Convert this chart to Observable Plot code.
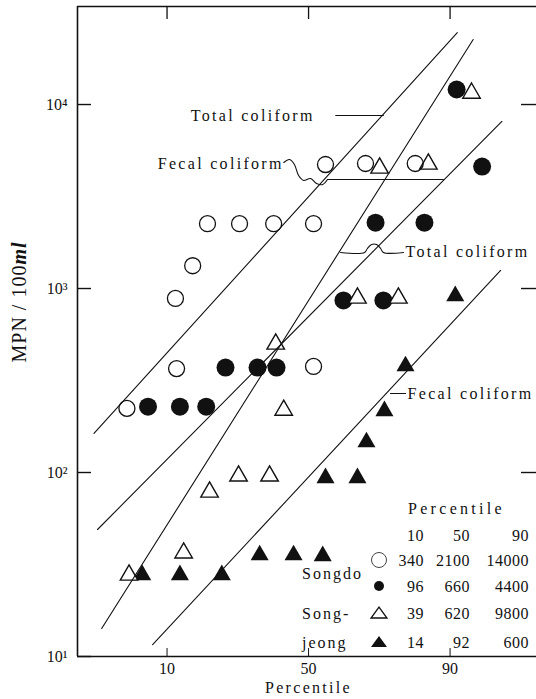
<!DOCTYPE html>
<html><head><meta charset="utf-8">
<script src="https://cdn.jsdelivr.net/npm/d3@7"></script>
<script src="https://cdn.jsdelivr.net/npm/@observablehq/plot@0.6"></script>
<style>
html,body{margin:0;padding:0;background:#fff;overflow:hidden}
svg{font-family:"Liberation Serif","DejaVu Serif",serif;background:#fff}
</style></head><body><div id="chart"></div>
<script>
// ---------- data ----------
const tickPercentiles = [10, 50, 90];
const yTickValues = [10, 100, 1000, 10000];
const yTickLabels = ["10\u00b9", "10\u00b2", "10\u00b3", "10\u2074"];
const xDomainPct = [1.82, 98.05];
const yDomain = [10, 34100];
const xLabel = "Percentile";
const yLabelParts = ["MPN / 100", "ml"];

// [percentile, MPN/100ml]
const songdoTotal = [[5.0,223],[11.6,367],[11.4,883],[14.7,1330],[18.0,2250],[26.6,2250],[37.6,2250],[51.8,2250],[51.8,377],[56.1,4720],[69.7,4780],[83.3,4780]];
const songdoFecal = [[7.3,228],[12.2,228],[17.7,228],[22.6,372],[32.2,372],[38.6,372],[62.4,861],[72.8,2280],[75.1,861],[85.3,2280],[91.0,12070],[94.2,4600]];
const songjeongTotal = [[5.2,28.6],[12.9,37.7],[18.5,80.8],[26.3,98.8],[36.2,98.8],[38.3,515],[41.1,225],[67.1,916],[74.0,4660],[79.2,916],[86.1,4900],[93.0,11900]];
const songjeongFecal = [[6.6,28.6],[12.2,28.6],[21.6,28.6],[32.9,36.7],[44.6,36.7],[55.1,36.3],[56.1,96.3],[67.1,96.3],[70.0,151],[75.4,223],[81.0,391],[90.8,940]];

// fitted lines (endpoints)
const lineSongdoTotal = [[2.6,163],[91.1,24600]];
const lineSongdoFecal = [[2.8,49],[96.0,8090]];
const lineSongjeongTotal = [[3.05,14.2],[93.2,22550]];
const lineSongjeongFecal = [[7.9,11.6],[95.9,1253]];

// annotations
const annotations = [
  {text: "Total coliform", p: 14.3, v: 8710},
  {text: "Fecal coliform", p: 8.6, v: 4780},
  {text: "Total coliform", p: 81.0, v: 1590},
  {text: "Fecal coliform", p: 81.5, v: 269}
];
const leaderTop = [[59.7,8710],[75.1,8710]];
const leaderFecalWave = [[41.1,4840],[43.2,5025],[44.9,4720],[46.4,4110],[48.2,3864],[50.7,3962],[52.9,3724],[55.1,3675],[56.8,3910]];
const leaderFecalBar = [[56.8,3910],[88.9,3910]];
const leaderTotalLow = [[61.4,1570],[69.4,1570],[70.3,1650],[71.6,1734],[73.1,1734],[74.3,1650],[75.1,1570],[80.5,1570]];
const leaderFecalLow = [[77.1,269],[81.0,269]];

// legend table
const legendTitle = "Percentile";
const legendPercentiles = [10, 50, 90];
const legendValues = [[340,2100,14000],[96,660,4400],[39,620,9800],[14,92,600]];
const siteLabels = ["Songdo", "Song-", "jeong"];

// ---------- probability transform ----------
function probit(p) {
  const a=[-3.969683028665376e+01,2.209460984245205e+02,-2.759285104469687e+02,1.383577518672690e+02,-3.066479806614716e+01,2.506628277459239e+00];
  const b=[-5.447609879822406e+01,1.615858368580409e+02,-1.556989798598866e+02,6.680131188771972e+01,-1.328068155288572e+01];
  const c=[-7.784894002430293e-03,-3.223964580411365e-01,-2.400758277161838e+00,-2.549732539343734e+00,4.374664141464968e+00,2.938163982698783e+00];
  const d=[7.784695709041462e-03,3.224671290700398e-01,2.445134137142996e+00,3.754408661907416e+00];
  const pl=0.02425, ph=1-pl; let q, r;
  if (p < pl) { q=Math.sqrt(-2*Math.log(p)); return (((((c[0]*q+c[1])*q+c[2])*q+c[3])*q+c[4])*q+c[5])/((((d[0]*q+d[1])*q+d[2])*q+d[3])*q+1); }
  if (p <= ph) { q=p-0.5; r=q*q; return (((((a[0]*r+a[1])*r+a[2])*r+a[3])*r+a[4])*r+a[5])*q/(((((b[0]*r+b[1])*r+b[2])*r+b[3])*r+b[4])*r+1); }
  q=Math.sqrt(-2*Math.log(1-p)); return -(((((c[0]*q+c[1])*q+c[2])*q+c[3])*q+c[4])*q+c[5])/((((d[0]*q+d[1])*q+d[2])*q+d[3])*q+1);
}
const z = p => probit(p / 100);
const X = d => z(d[0]), Y = d => d[1];
const zTicks = tickPercentiles.map(z);
const ink = "#111";

const lineOpts = {x: X, y: Y, stroke: ink, strokeWidth: 1.1};

const plot = Plot.plot({
  width: 536, height: 699,
  marginTop: 6, marginBottom: 43, marginLeft: 77, marginRight: 0,
  x: {type: "linear", domain: xDomainPct.map(z), axis: null},
  y: {type: "log", domain: yDomain, axis: null},
  marks: [
    // frame
    Plot.ruleX([xDomainPct[0]], {x: z, stroke: ink, strokeWidth: 1.6}),
    Plot.ruleY(yDomain, {stroke: ink, strokeWidth: 1.6}),
    // axes ticks
    Plot.axisY({anchor: "left", ticks: yTickValues, tickSize: -14, tickFormat: () => "", label: null, stroke: ink, strokeWidth: 1.4}),
    Plot.axisY({anchor: "left", ticks: yTickValues, tickSize: 0, tickPadding: 10, tickFormat: d => yTickLabels[yTickValues.indexOf(d)], fontSize: 16, fill: ink, label: null}),
    Plot.axisY({anchor: "right", ticks: yTickValues.slice(1), tickSize: -16, tickFormat: () => "", label: null, stroke: ink, strokeWidth: 1.4}),
    Plot.axisX({anchor: "bottom", ticks: zTicks, tickSize: -8, tickFormat: () => "", label: null, stroke: ink}),
    Plot.axisX({anchor: "top", ticks: zTicks, tickSize: -12, tickFormat: () => "", label: null, stroke: ink, strokeWidth: 1.3}),
    Plot.axisX({anchor: "bottom", ticks: zTicks, tickSize: 0, tickPadding: 6, tickFormat: d => String(tickPercentiles[zTicks.indexOf(d)]), fontSize: 16, fill: ink, label: null}),
    // points
    Plot.dot(songdoFecal, {x: X, y: Y, r: 9, fill: ink, stroke: "none"}),
    Plot.dot(songjeongFecal, {x: X, y: Y, symbol: "triangle", r: 6.7, fill: ink, stroke: "none", dy: 2.5}),
    Plot.dot(songjeongTotal, {x: X, y: Y, symbol: "triangle", r: 6.5, fill: "white", stroke: ink, strokeWidth: 1.4, dy: 2.5}),
    Plot.dot(songdoTotal, {x: X, y: Y, r: 8, fill: "none", stroke: ink, strokeWidth: 1.3}),
    // fitted lines
    Plot.line(lineSongdoTotal, lineOpts),
    Plot.line(lineSongdoFecal, lineOpts),
    Plot.line(lineSongjeongTotal, lineOpts),
    Plot.line(lineSongjeongFecal, lineOpts),
    // leaders
    Plot.line(leaderTop, lineOpts),
    Plot.line(leaderFecalWave, {...lineOpts, curve: "catmull-rom"}),
    Plot.line(leaderFecalBar, lineOpts),
    Plot.line(leaderTotalLow, {...lineOpts, curve: "catmull-rom"}),
    Plot.line(leaderFecalLow, lineOpts),
    // annotation labels
    Plot.text(annotations, {x: d => z(d.p), y: "v", text: "text", textAnchor: "start", fontSize: 16, fill: ink}),
    Plot.text([xLabel], {frameAnchor: "bottom", dy: 36, dx: 1.5, fontSize: 16, fill: ink})
  ]
});
document.getElementById("chart").append(plot);

const svg = d3.select(plot);
svg.selectAll('g[aria-label="text"] text').style("letter-spacing", "2.3px");

// y-axis label with mixed styles
const yl = svg.append("text")
  .attr("transform", "translate(26,302) rotate(-90)")
  .attr("text-anchor", "middle").attr("font-size", 20).attr("fill", ink)
  .style("letter-spacing", "1px");
yl.append("tspan").text(yLabelParts[0]);
yl.append("tspan").attr("font-style", "italic").attr("font-weight", "bold").text(yLabelParts[1]);

// legend table
const lg = svg.append("g").attr("font-size", 16).attr("fill", ink).attr("text-anchor", "start");
lg.append("text").attr("x", 408).attr("y", 508).attr("dy", "0.35em").style("letter-spacing", "3.3px").text(legendTitle);
const colX = [424, 470, 529];
legendPercentiles.forEach((p, i) => lg.append("text").attr("x", colX[i]).attr("y", 535).attr("dy", "0.35em").attr("text-anchor", "end").style("letter-spacing", "0.5px").text(p));
const rowY = [560, 586, 613, 642];
legendValues.forEach((vals, r) => vals.forEach((v, i) =>
  lg.append("text").attr("x", colX[i]).attr("y", rowY[r]).attr("dy", "0.35em").attr("text-anchor", "end").style("letter-spacing", "0.5px").text(v)));
const sx = 379;
lg.append("circle").attr("cx", sx).attr("cy", rowY[0]).attr("r", 7.5).attr("fill", "none").attr("stroke", "#444").attr("stroke-width", 1);
lg.append("circle").attr("cx", sx).attr("cy", rowY[1]).attr("r", 5).attr("fill", ink);
const tri = y => `M${sx-8},${y+5}L${sx+8},${y+5}L${sx},${y-6}Z`;
lg.append("path").attr("d", tri(rowY[2])).attr("fill", "none").attr("stroke", ink).attr("stroke-width", 1.3);
lg.append("path").attr("d", tri(rowY[3])).attr("fill", ink);
const siteY = [573, 613, 642];
siteLabels.forEach((s, i) => lg.append("text").attr("x", 302).attr("y", siteY[i]).attr("dy", "0.35em").style("letter-spacing", "2px").text(s));
</script></body></html>
